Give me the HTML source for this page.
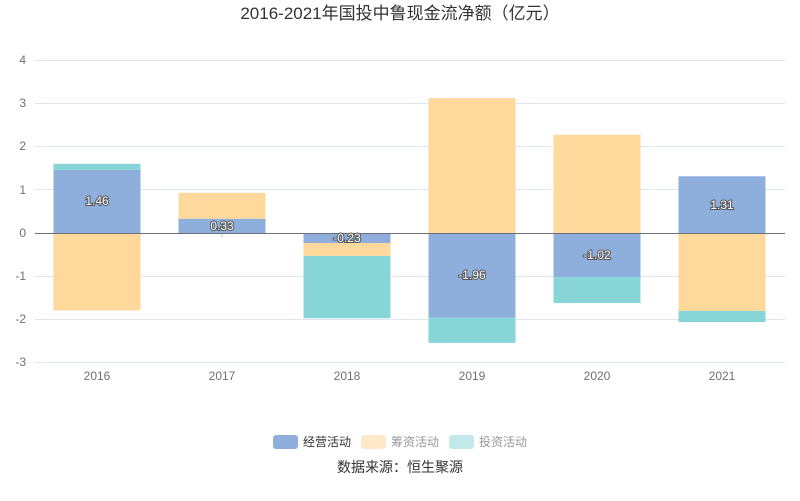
<!DOCTYPE html><html><head><meta charset="utf-8"><style>body{margin:0;background:#fff}svg{display:block;font-family:"Liberation Sans","Noto Sans CJK SC",sans-serif}</style></head><body>
<svg width="800" height="501" viewBox="0 0 800 501">
<text x="400" y="19" text-anchor="middle" font-size="17" fill="#333">2016-2021年国投中鲁现金流净额（亿元）</text>
<g stroke="#e0e6f1" stroke-width="1">
<line x1="35" x2="785" y1="60.5" y2="60.5"/><line x1="35" x2="785" y1="103.5" y2="103.5"/><line x1="35" x2="785" y1="146.5" y2="146.5"/><line x1="35" x2="785" y1="189.5" y2="189.5"/><line x1="35" x2="785" y1="276.5" y2="276.5"/><line x1="35" x2="785" y1="319.5" y2="319.5"/><line x1="35" x2="785" y1="362.5" y2="362.5"/>
</g>
<g font-size="12" fill="#6e7079" text-anchor="end">
<text x="26" y="64">4</text><text x="26" y="107">3</text><text x="26" y="150">2</text><text x="26" y="194">1</text><text x="26" y="237">0</text><text x="26" y="280">-1</text><text x="26" y="323">-2</text><text x="26" y="366">-3</text>
</g>
<g font-size="12" fill="#6e7079" text-anchor="middle">
<text x="97" y="380">2016</text><text x="222" y="380">2017</text><text x="347" y="380">2018</text><text x="472" y="380">2019</text><text x="597" y="380">2020</text><text x="722" y="380">2021</text>
</g>
<g>
<rect x="53.5" y="169.9" width="87" height="63.1" fill="#8eaedc"/><rect x="53.5" y="163.8" width="87" height="6.1" fill="#88d5d8"/><rect x="53.5" y="233" width="87" height="77.4" fill="#ffd99b"/>
<rect x="178.5" y="218.7" width="87" height="14.3" fill="#8eaedc"/><rect x="178.5" y="192.8" width="87" height="25.9" fill="#ffd99b"/><rect x="221.5" y="233" width="1" height="4" fill="#88d5d8"/>
<rect x="303.5" y="233" width="87" height="10" fill="#8eaedc"/><rect x="303.5" y="243" width="87" height="12.9" fill="#ffd99b"/><rect x="303.5" y="255.9" width="87" height="62.3" fill="#88d5d8"/>
<rect x="428.5" y="98.1" width="87" height="134.9" fill="#ffd99b"/><rect x="428.5" y="233" width="87" height="84.8" fill="#8eaedc"/><rect x="428.5" y="317.8" width="87" height="25.1" fill="#88d5d8"/>
<rect x="553.5" y="134.8" width="87" height="98.2" fill="#ffd99b"/><rect x="553.5" y="233" width="87" height="44.1" fill="#8eaedc"/><rect x="553.5" y="277.1" width="87" height="26" fill="#88d5d8"/>
<rect x="678.5" y="176.3" width="87" height="56.7" fill="#8eaedc"/><rect x="678.5" y="233" width="87" height="77.9" fill="#ffd99b"/><rect x="678.5" y="310.9" width="87" height="11.2" fill="#88d5d8"/>
</g>
<line x1="35" x2="785" y1="233.5" y2="233.5" stroke="#6e7079"/>
<g font-size="12" fill="#fff" stroke="#555" stroke-width="2" paint-order="stroke" text-anchor="middle">
<text x="97" y="205">1.46</text><text x="222" y="230">0.33</text><text x="347" y="242">-0.23</text><text x="472" y="279">-1.96</text><text x="597" y="259">-1.02</text><text x="722" y="209">1.31</text>
</g>
<rect x="273" y="435" width="25" height="14" rx="3" fill="#8eaedc"/><text x="303" y="446" font-size="12" fill="#333">经营活动</text>
<rect x="361" y="435" width="25" height="14" rx="3" fill="#fde8c8"/><text x="391" y="446" font-size="12" fill="#999">筹资活动</text>
<rect x="449" y="435" width="25" height="14" rx="3" fill="#c2eaea"/><text x="479" y="446" font-size="12" fill="#999">投资活动</text>
<text x="400" y="472" text-anchor="middle" font-size="14" fill="#333">数据来源：恒生聚源</text>
</svg>
</body></html>
